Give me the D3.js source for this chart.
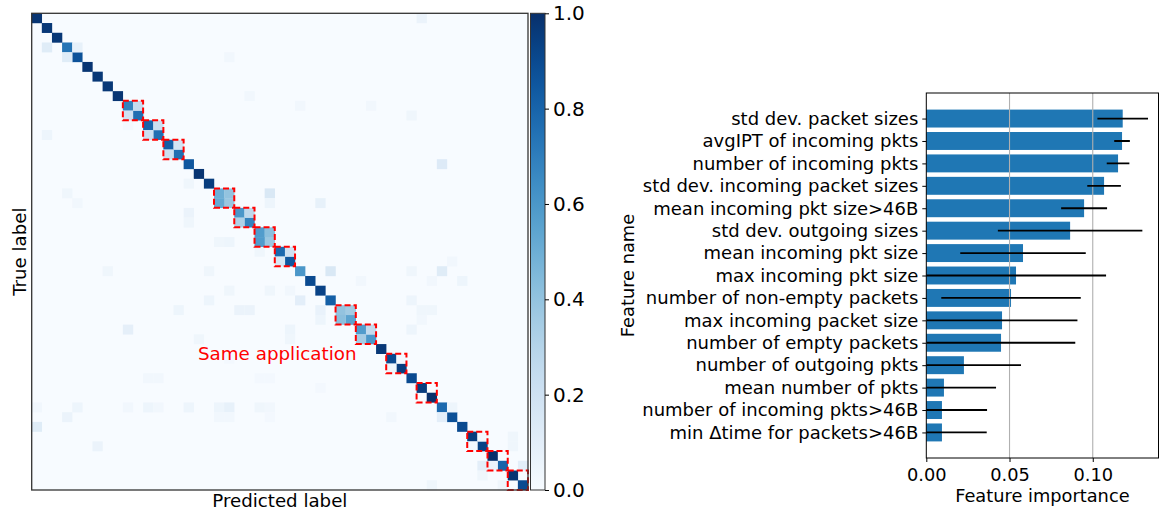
<!DOCTYPE html>
<html>
<head>
<meta charset="utf-8">
<script src="https://cdn.jsdelivr.net/npm/d3@7"></script>
<style>
  body { margin: 0; background: #fff; }
  text { font-family: "DejaVu Sans", sans-serif; fill: #000; }
</style>
</head>
<body>
<svg id="fig" width="1159" height="512"></svg>
<script>
// ---------- confusion matrix data (row-normalised, 49 applications) ----------
const classCount = 49;
const diagonal = [
  0.98, 0.97, 0.97, 0.74, 0.87, 0.98, 0.97, 0.97, 0.98, 0.68,
  0.76, 0.80, 0.76, 0.82, 0.76, 0.85, 0.98, 0.95, 0.50, 0.38,
  0.60, 0.68, 0.58, 0.38, 0.78, 0.85, 0.60, 0.90, 0.93, 0.82,
  0.40, 0.55, 0.58, 0.60, 0.97, 0.90, 0.95, 0.90, 0.95, 1.00,
  0.78, 0.88, 0.90, 0.95, 0.93, 1.00, 0.80, 0.98, 0.90
];
// [true row, predicted column, share]
const offDiagonal = [
  [3, 1, 0.12], [3, 4, 0.08], [4, 3, 0.12], [12, 1, 0.05], [11, 9, 0.02],
  [0, 38, 0.06], [4, 19, 0.03], [8, 21, 0.03], [9, 26, 0.03], [9, 33, 0.03],
  [10, 37, 0.04], [15, 40, 0.13], [17, 15, 0.04], [18, 3, 0.04], [19, 4, 0.03],
  [18, 23, 0.15], [19, 23, 0.05], [19, 28, 0.08], [20, 15, 0.06], [21, 15, 0.04],
  [23, 18, 0.04], [23, 19, 0.05], [24, 22, 0.04], [25, 41, 0.03],
  [26, 7, 0.04], [26, 17, 0.04], [26, 29, 0.15], [26, 37, 0.04], [26, 40, 0.12],
  [27, 32, 0.03], [27, 39, 0.03], [27, 42, 0.05],
  [28, 19, 0.04], [28, 23, 0.04], [28, 25, 0.03],
  [29, 17, 0.05], [29, 26, 0.10], [29, 37, 0.05],
  [30, 14, 0.05], [30, 20, 0.06], [30, 21, 0.06], [30, 28, 0.07], [30, 38, 0.04], [30, 39, 0.04],
  [31, 28, 0.05], [31, 38, 0.03],
  [32, 9, 0.09], [32, 25, 0.05], [32, 37, 0.05], [33, 16, 0.04], [33, 25, 0.04],
  [35, 19, 0.02], [37, 11, 0.03], [37, 12, 0.03], [37, 22, 0.02], [37, 23, 0.02], [38, 28, 0.02],
  [40, 0, 0.03], [40, 4, 0.05], [40, 9, 0.03], [40, 11, 0.05], [40, 12, 0.03], [40, 15, 0.05],
  [40, 18, 0.05], [40, 19, 0.08], [40, 22, 0.04], [40, 23, 0.03], [40, 41, 0.05],
  [41, 3, 0.06], [41, 18, 0.03], [41, 19, 0.03], [41, 23, 0.02], [41, 35, 0.03], [41, 40, 0.10],
  [42, 0, 0.12], [43, 47, 0.04], [44, 6, 0.06], [44, 47, 0.04],
  [46, 44, 0.10], [46, 48, 0.10], [47, 44, 0.04], [48, 39, 0.04], [48, 46, 0.04],
  // confusions inside same-application pairs
  [9, 10, 0.24], [10, 9, 0.20], [11, 12, 0.22], [12, 11, 0.22], [13, 14, 0.18], [14, 13, 0.22],
  [18, 19, 0.40], [19, 18, 0.52], [20, 21, 0.27], [21, 20, 0.32], [22, 23, 0.42], [23, 22, 0.58],
  [24, 25, 0.20], [25, 24, 0.15], [30, 31, 0.36], [31, 30, 0.42], [32, 33, 0.25], [33, 32, 0.35],
  [35, 36, 0.02], [36, 35, 0.05], [43, 44, 0.02], [44, 43, 0.02], [46, 45, 0.06]
];
// first class index of each pair of classes belonging to the same application
const sameAppStarts = [9, 11, 13, 18, 20, 22, 24, 30, 32, 35, 38, 43, 45, 47];
const colorbarTicks = [0, 0.2, 0.4, 0.6, 0.8, 1.0];

// ---------- feature importance data ----------
const features = [
  "std dev. packet sizes",
  "avgIPT of incoming pkts",
  "number of incoming pkts",
  "std dev. incoming packet sizes",
  "mean incoming pkt size>46B",
  "std dev. outgoing sizes",
  "mean incoming pkt size",
  "max incoming pkt size",
  "number of non-empty packets",
  "max incoming packet size",
  "number of empty packets",
  "number of outgoing pkts",
  "mean number of pkts",
  "number of incoming pkts>46B",
  "min \u0394time for packets>46B"
];
const importance = [0.1180, 0.1176, 0.1152, 0.1068, 0.0948, 0.0864, 0.0581, 0.0539,
                    0.0509, 0.0455, 0.0449, 0.0226, 0.0106, 0.0094, 0.0094];
const importanceStd = [0.0152, 0.0047, 0.0068, 0.0101, 0.0138, 0.0434, 0.0377, 0.0541,
                       0.0419, 0.0453, 0.0446, 0.0343, 0.0313, 0.0271, 0.0269];
const importanceTicks = [0, 0.05, 0.10];

const svg = d3.select("#fig");
svg.append("rect").attr("width", 1159).attr("height", 512).attr("fill", "#fff");

// ================= confusion matrix =================
const mLeft = 31.7, mRight = 528, mTop = 13.3, mBottom = 490;
const cx = d3.scaleBand().domain(d3.range(classCount)).range([mLeft, mRight]);
const cy = d3.scaleBand().domain(d3.range(classCount)).range([mTop, mBottom]);
const blues = d3.scaleSequential(d3.interpolateBlues).domain([0, 1]);

const cells = [];
diagonal.forEach((v, i) => cells.push({ r: i, c: i, v }));
offDiagonal.forEach(([r, c, v]) => cells.push({ r, c, v }));

const mat = svg.append("g");
mat.append("rect")
  .attr("x", mLeft).attr("y", mTop)
  .attr("width", mRight - mLeft).attr("height", mBottom - mTop)
  .attr("fill", blues(0));
mat.selectAll("rect.cell").data(cells).join("rect")
  .attr("class", "cell")
  .attr("x", d => cx(d.c)).attr("y", d => cy(d.r))
  .attr("width", cx.bandwidth() + 0.2).attr("height", cy.bandwidth() + 0.2)
  .attr("fill", d => blues(d.v));

// dashed outlines around classes of the same application
const clipId = "matclip";
svg.append("clipPath").attr("id", clipId).append("rect")
  .attr("x", mLeft - 1).attr("y", mTop - 1)
  .attr("width", mRight - mLeft + 2).attr("height", mBottom - mTop + 2);
mat.append("g").attr("clip-path", `url(#${clipId})`)
  .selectAll("rect").data(sameAppStarts).join("rect")
  .attr("x", d => cx(d)).attr("y", d => cy(d))
  .attr("width", cx.bandwidth() * 2).attr("height", cy.bandwidth() * 2)
  .attr("fill", "none").attr("stroke", "#ff0000")
  .attr("stroke-width", 2).attr("stroke-dasharray", "6,3");

mat.append("rect")
  .attr("x", mLeft).attr("y", mTop)
  .attr("width", mRight - mLeft).attr("height", mBottom - mTop)
  .attr("fill", "none").attr("stroke", "#333").attr("stroke-width", 1.3);

mat.append("text")
  .attr("x", 198).attr("y", 360)
  .attr("font-size", 18.3).style("fill", "#ff0000")
  .text("Same application");

svg.append("text")
  .attr("x", (mLeft + mRight) / 2).attr("y", 507)
  .attr("text-anchor", "middle").attr("font-size", 18.2)
  .text("Predicted label");
svg.append("text")
  .attr("transform", `translate(25.5,${(mTop + mBottom) / 2}) rotate(-90)`)
  .attr("text-anchor", "middle").attr("font-size", 18.2)
  .text("True label");

// ---------- colorbar ----------
const cbLeft = 530.5, cbRight = 545;
const grad = svg.append("defs").append("linearGradient")
  .attr("id", "cbgrad").attr("x1", 0).attr("y1", 1).attr("x2", 0).attr("y2", 0);
d3.range(0, 1.0001, 0.05).forEach(t => {
  grad.append("stop").attr("offset", t).attr("stop-color", blues(t));
});
svg.append("rect")
  .attr("x", cbLeft).attr("y", mTop)
  .attr("width", cbRight - cbLeft).attr("height", mBottom - mTop)
  .attr("fill", "url(#cbgrad)").attr("stroke", "#333").attr("stroke-width", 1);
const cbScale = d3.scaleLinear().domain([0, 1]).range([mBottom, mTop]);
const cbAxis = svg.append("g")
  .attr("transform", `translate(${cbRight},0)`)
  .call(d3.axisRight(cbScale).tickValues(colorbarTicks).tickFormat(d3.format(".1f"))
    .tickSize(4).tickPadding(4));
cbAxis.select(".domain").remove();
cbAxis.selectAll("text").attr("font-size", 20).style("font-family", '"DejaVu Sans", sans-serif').attr("fill", "#000");
cbAxis.selectAll("line").attr("stroke", "#000");

// ================= feature importance =================
const fLeft = 926.3, fRight = 1158.5, fTop = 93, fBottom = 458;
const fx = d3.scaleLinear().domain([0, 0.1395]).range([fLeft, fRight]);
const fy = d3.scaleLinear().domain([-1.14, 15.14]).range([fTop, fBottom]);
const barH = fy(0.4) - fy(-0.4);

const fi = svg.append("g");
svg.append("clipPath").attr("id", "fclip").append("rect")
  .attr("x", fLeft).attr("y", fTop).attr("width", fRight - fLeft).attr("height", fBottom - fTop);

fi.selectAll("rect.bar").data(features).join("rect")
  .attr("class", "bar")
  .attr("x", fx(0)).attr("y", (d, i) => fy(i) - barH / 2)
  .attr("width", (d, i) => fx(importance[i]) - fx(0)).attr("height", barH)
  .attr("fill", "#1f77b4");

// vertical grid
fi.selectAll("line.grid").data(importanceTicks.filter(t => t > 0)).join("line")
  .attr("class", "grid")
  .attr("x1", d => fx(d)).attr("x2", d => fx(d))
  .attr("y1", fTop).attr("y2", fBottom)
  .attr("stroke", "#b0b0b0").attr("stroke-width", 1.1);

// error bars
fi.append("g").attr("clip-path", "url(#fclip)")
  .selectAll("line").data(features).join("line")
  .attr("x1", (d, i) => fx(importance[i] - importanceStd[i]))
  .attr("x2", (d, i) => fx(importance[i] + importanceStd[i]))
  .attr("y1", (d, i) => fy(i)).attr("y2", (d, i) => fy(i))
  .attr("stroke", "#000").attr("stroke-width", 1.8);

fi.append("rect")
  .attr("x", fLeft).attr("y", fTop)
  .attr("width", fRight - fLeft).attr("height", fBottom - fTop)
  .attr("fill", "none").attr("stroke", "#000").attr("stroke-width", 1);

const yAx = svg.append("g").attr("transform", `translate(${fLeft},0)`)
  .call(d3.axisLeft(fy).tickValues(d3.range(features.length))
    .tickFormat(i => features[i]).tickSize(4).tickPadding(4));
yAx.select(".domain").remove();
yAx.selectAll("text").attr("font-size", 18).style("font-family", '"DejaVu Sans", sans-serif').attr("fill", "#000");
yAx.selectAll("line").attr("stroke", "#000");

const xAx = svg.append("g").attr("transform", `translate(0,${fBottom})`)
  .call(d3.axisBottom(fx).tickValues(importanceTicks).tickFormat(d3.format(".2f"))
    .tickSize(4).tickPadding(6));
xAx.select(".domain").remove();
xAx.selectAll("text").attr("font-size", 17.8).style("font-family", '"DejaVu Sans", sans-serif').attr("fill", "#000");
xAx.selectAll("line").attr("stroke", "#000");

svg.append("text")
  .attr("x", (fLeft + fRight) / 2).attr("y", 501.5)
  .attr("text-anchor", "middle").attr("font-size", 17.8)
  .text("Feature importance");
svg.append("text")
  .attr("transform", `translate(634,${(fTop + fBottom) / 2}) rotate(-90)`)
  .attr("text-anchor", "middle").attr("font-size", 17.8)
  .text("Feature name");
</script>
</body>
</html>
